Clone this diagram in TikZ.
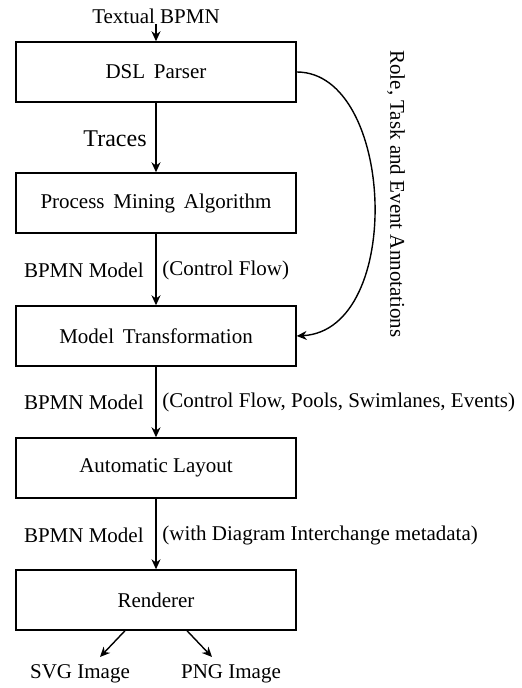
\documentclass[tikz,border=0pt]{standalone}
\usepackage{fontspec}
\setmainfont{Liberation Serif}
\usetikzlibrary{arrows.meta}
\begin{document}
\begin{tikzpicture}[x=0.5pt,y=-0.5pt,
  stage/.style={draw,line width=0.7pt,minimum width=140pt,minimum height=30pt,inner sep=0pt,font=\fontsize{10.5}{12}\selectfont},
  lbl/.style={inner sep=0pt,font=\fontsize{10.5}{12}\selectfont},
  flow/.style={line width=0.7pt,-{Stealth[length=5pt,width=4.5pt,inset=1.6pt]}}]
\useasboundingbox (0,0) rectangle (521,688);
\node[stage] (parser) at (156,72) {DSL\, Parser};
\node[stage] (mining) at (156,203) {Process\, Mining\, Algorithm};
\node[stage] (transform) at (156,336) {Model\, Transformation};
\node[stage] (layout) at (156,468) {Automatic Layout};
\node[stage] (render) at (156,600) {Renderer};

\node[lbl] (input) at (156,16) {Textual BPMN};
\node[lbl,font=\fontsize{12}{14}\selectfont,anchor=east] (traces) at (147,139) {Traces};
\node[lbl,anchor=east] (m1) at (144,270) {BPMN Model};
\node[lbl,anchor=west] (c1) at (162,270) {(Control Flow)};
\node[lbl,anchor=east] (m2) at (144,402) {BPMN Model};
\node[lbl,anchor=west] (c2) at (162,402) {(Control Flow, Pools, Swimlanes, Events)};
\node[lbl,anchor=east] (m3) at (144,535) {BPMN Model};
\node[lbl,anchor=west] (c3) at (162,535) {(with Diagram Interchange metadata)};
\node[lbl] (svg) at (80,674) {SVG Image};
\node[lbl] (png) at (231,674) {PNG Image};
\node[lbl,rotate=-90] (annot) at (396,194) {Role, Task and Event Annotations};

\coordinate (svgtip) at (100,657);
\coordinate (pngtip) at (212,657);

\draw[flow] (input.south) -- (parser.north);
\draw[flow] (parser) -- (mining);
\draw[flow] (mining) -- (transform);
\draw[flow] (transform) -- (layout);
\draw[flow] (layout) -- (render);
\draw[flow] (render.south) ++(-31,0) -- (svgtip);
\draw[flow] (render.south) ++(31,0) -- (pngtip);
\draw[flow] (parser.east) .. controls (395,72) and (405,330) .. (transform.east);
\end{tikzpicture}
\end{document}
